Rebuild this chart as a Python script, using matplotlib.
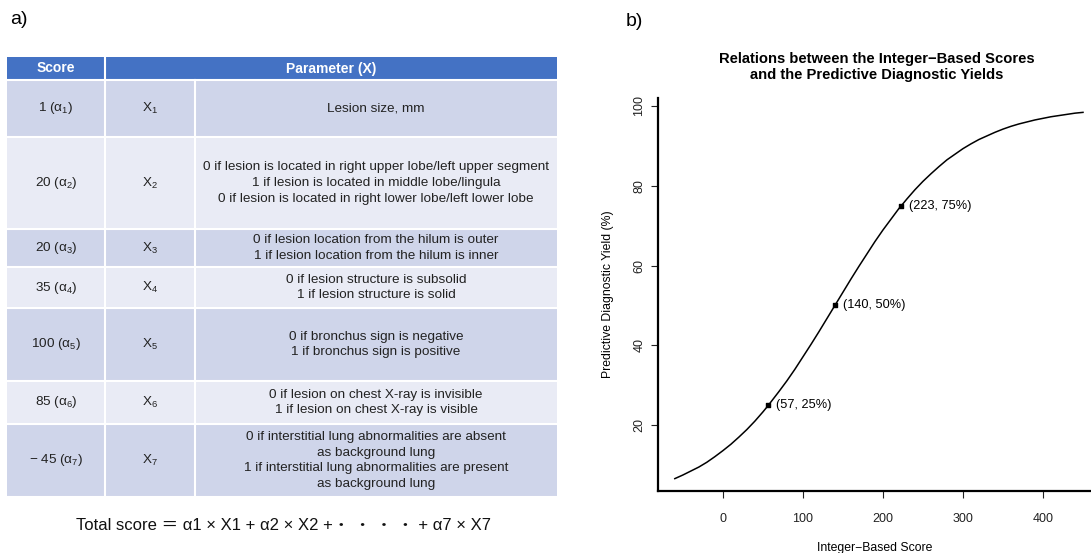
import matplotlib
matplotlib.use("Agg")
import matplotlib.pyplot as plt
from matplotlib.patches import Rectangle

plt.rcParams['font.family'] = ['Liberation Sans', 'Noto Sans CJK JP', 'DejaVu Sans']
plt.rcParams['mathtext.fontset'] = 'custom'
plt.rcParams['mathtext.rm'] = 'Liberation Sans'
plt.rcParams['mathtext.it'] = 'Liberation Sans'
plt.rcParams['mathtext.default'] = 'regular'

# ---------------- data ----------------
score_labels = ["1 (α$_1$)", "20 (α$_2$)", "20 (α$_3$)", "35 (α$_4$)",
                "100 (α$_5$)", "85 (α$_6$)", "− 45 (α$_7$)"]
param_labels = ["X$_1$", "X$_2$", "X$_3$", "X$_4$", "X$_5$", "X$_6$", "X$_7$"]
descriptions = [
    "Lesion size, mm",
    "0 if lesion is located in right upper lobe/left upper segment\n"
    "1 if lesion is located in middle lobe/lingula\n"
    "0 if lesion is located in right lower lobe/left lower lobe",
    "0 if lesion location from the hilum is outer\n"
    "1 if lesion location from the hilum is inner",
    "0 if lesion structure is subsolid\n1 if lesion structure is solid",
    "0 if bronchus sign is negative\n1 if bronchus sign is positive",
    "0 if lesion on chest X-ray is invisible\n1 if lesion on chest X-ray is visible",
    "0 if interstitial lung abnormalities are absent\nas background lung\n"
    "1 if interstitial lung abnormalities are present\nas background lung",
]
header_labels = ["Score", "Parameter (X)"]
formula = "Total score ＝ α1 × X1 + α2 × X2 +・ ・ ・ ・ + α7 × X7"

# curve points
curve_x = [-60, -50, -40, -30, -20, -10, 0, 10, 20, 30, 40, 50, 57, 60, 70, 80,
           90, 100, 110, 120, 130, 140, 150, 160, 170, 180, 190, 200, 210, 220,
           223, 230, 240, 250, 260, 270, 280, 290, 300, 310, 320, 330, 340, 350,
           360, 370, 380, 390, 400, 410, 420, 430, 440, 450]
curve_y = [6.6, 7.5, 8.5, 9.5, 10.7, 12.1, 13.6, 15.2, 17.0, 18.9, 21.0, 23.3,
           25.0, 25.8, 28.4, 31.1, 34.0, 37.1, 40.2, 43.4, 46.7, 50.0, 53.3,
           56.6, 59.8, 62.9, 66.0, 68.9, 71.6, 74.3, 75.0, 76.7, 79.0, 81.1,
           83.0, 84.8, 86.5, 87.9, 89.3, 90.5, 91.6, 92.5, 93.4, 94.2, 94.9,
           95.5, 96.0, 96.5, 96.9, 97.3, 97.6, 97.9, 98.2, 98.4]
mark_x = [57, 140, 223]
mark_y = [25, 50, 75]
mark_labels = ["(57, 25%)", "(140, 50%)", "(223, 75%)"]
xticks = [0, 100, 200, 300, 400]
yticks = [20, 40, 60, 80, 100]

W, H = 1091, 553
fig = plt.figure(figsize=(W / 100, H / 100), dpi=100)

# ---------------- panel a: table ----------------
ax0 = fig.add_axes([0, 0, 1, 1])
ax0.set_xlim(0, W)
ax0.set_ylim(H, 0)
ax0.axis('off')

x0, x1, x2, x3 = 7, 105, 195, 557
row_edges = [80, 137, 229, 267, 308, 381, 424, 497]
header_top = 57
blue = '#4472C4'
dark = '#CFD5EA'
light = '#E9EBF5'
fs = 9.7

ax0.add_patch(Rectangle((x0, header_top), x3 - x0, row_edges[0] - header_top,
                        facecolor=blue, edgecolor='none'))
ax0.text((x0 + x1) / 2, (header_top + row_edges[0]) / 2, header_labels[0],
         color='white', fontsize=10, fontweight='bold', ha='center', va='center')
ax0.text((x1 + x3) / 2, (header_top + row_edges[0]) / 2, header_labels[1],
         color='white', fontsize=10, fontweight='bold', ha='center', va='center')

for i in range(len(score_labels)):
    top, bot = row_edges[i], row_edges[i + 1]
    col = dark if i % 2 == 0 else light
    ax0.add_patch(Rectangle((x0, top), x3 - x0, bot - top,
                            facecolor=col, edgecolor='none'))
    yc = (top + bot) / 2
    ax0.text((x0 + x1) / 2, yc, score_labels[i], fontsize=fs, ha='center',
             va='center', color='#222222')
    ax0.text((x1 + x2) / 2, yc, param_labels[i], fontsize=fs, ha='center',
             va='center', color='#222222')
    ax0.text((x2 + x3) / 2, yc, descriptions[i], fontsize=fs, ha='center',
             va='center', color='#222222', linespacing=1.42)

# white grid lines
for y in row_edges:
    ax0.plot([x0, x3], [y, y], color='white', lw=1.5)
ax0.plot([x1, x1], [header_top, row_edges[-1]], color='white', lw=1.5)
ax0.plot([x2, x2], [row_edges[0], row_edges[-1]], color='white', lw=1.5)

ax0.text(283, 525, formula, fontsize=12, ha='center', va='center', color='#111111')
ax0.text(10, 20, "a)", fontsize=14, ha='left', va='center')
ax0.text(626, 22, "b)", fontsize=14, ha='left', va='center')

ax0.text(877, 67, "Relations between the Integer−Based Scores\nand the Predictive Diagnostic Yields",
         fontsize=10.6, fontweight='bold', ha='center', va='center', linespacing=1.22)

# ---------------- panel b: curve ----------------
L, R, T, B = 658, 1091, 98, 491
ax = fig.add_axes([L / W, (H - B) / H, (R - L) / W, (B - T) / H])
ax.plot(curve_x, curve_y, color='black', lw=1.1)
ax.scatter(mark_x, mark_y, s=11, marker='s', color='black', zorder=3)
for mx, my, lab in zip(mark_x, mark_y, mark_labels):
    ax.text(mx + 10, my, lab, fontsize=9.2, ha='left', va='center')

ax.set_xlim(-81, 460)
ax.set_ylim(3.5, 102)
ax.set_xticks(xticks)
ax.set_yticks(yticks)
ax.tick_params(axis='both', direction='out', length=5, width=0.8, labelsize=9,
               colors='#222222')
ax.tick_params(axis='x', pad=11)
ax.tick_params(axis='y', pad=4)
for lab in ax.get_yticklabels():
    lab.set_rotation(90)
    lab.set_va('center')
for s in ['top', 'right']:
    ax.spines[s].set_visible(False)
for s in ['left', 'bottom']:
    ax.spines[s].set_linewidth(1.6)
ax.set_facecolor('none')
ax.set_xlabel("Integer−Based Score", fontsize=8.8, labelpad=12)
ax.set_ylabel("Predictive Diagnostic Yield (%)", fontsize=8.8, labelpad=14)

fig.savefig("out.png", dpi=100)
